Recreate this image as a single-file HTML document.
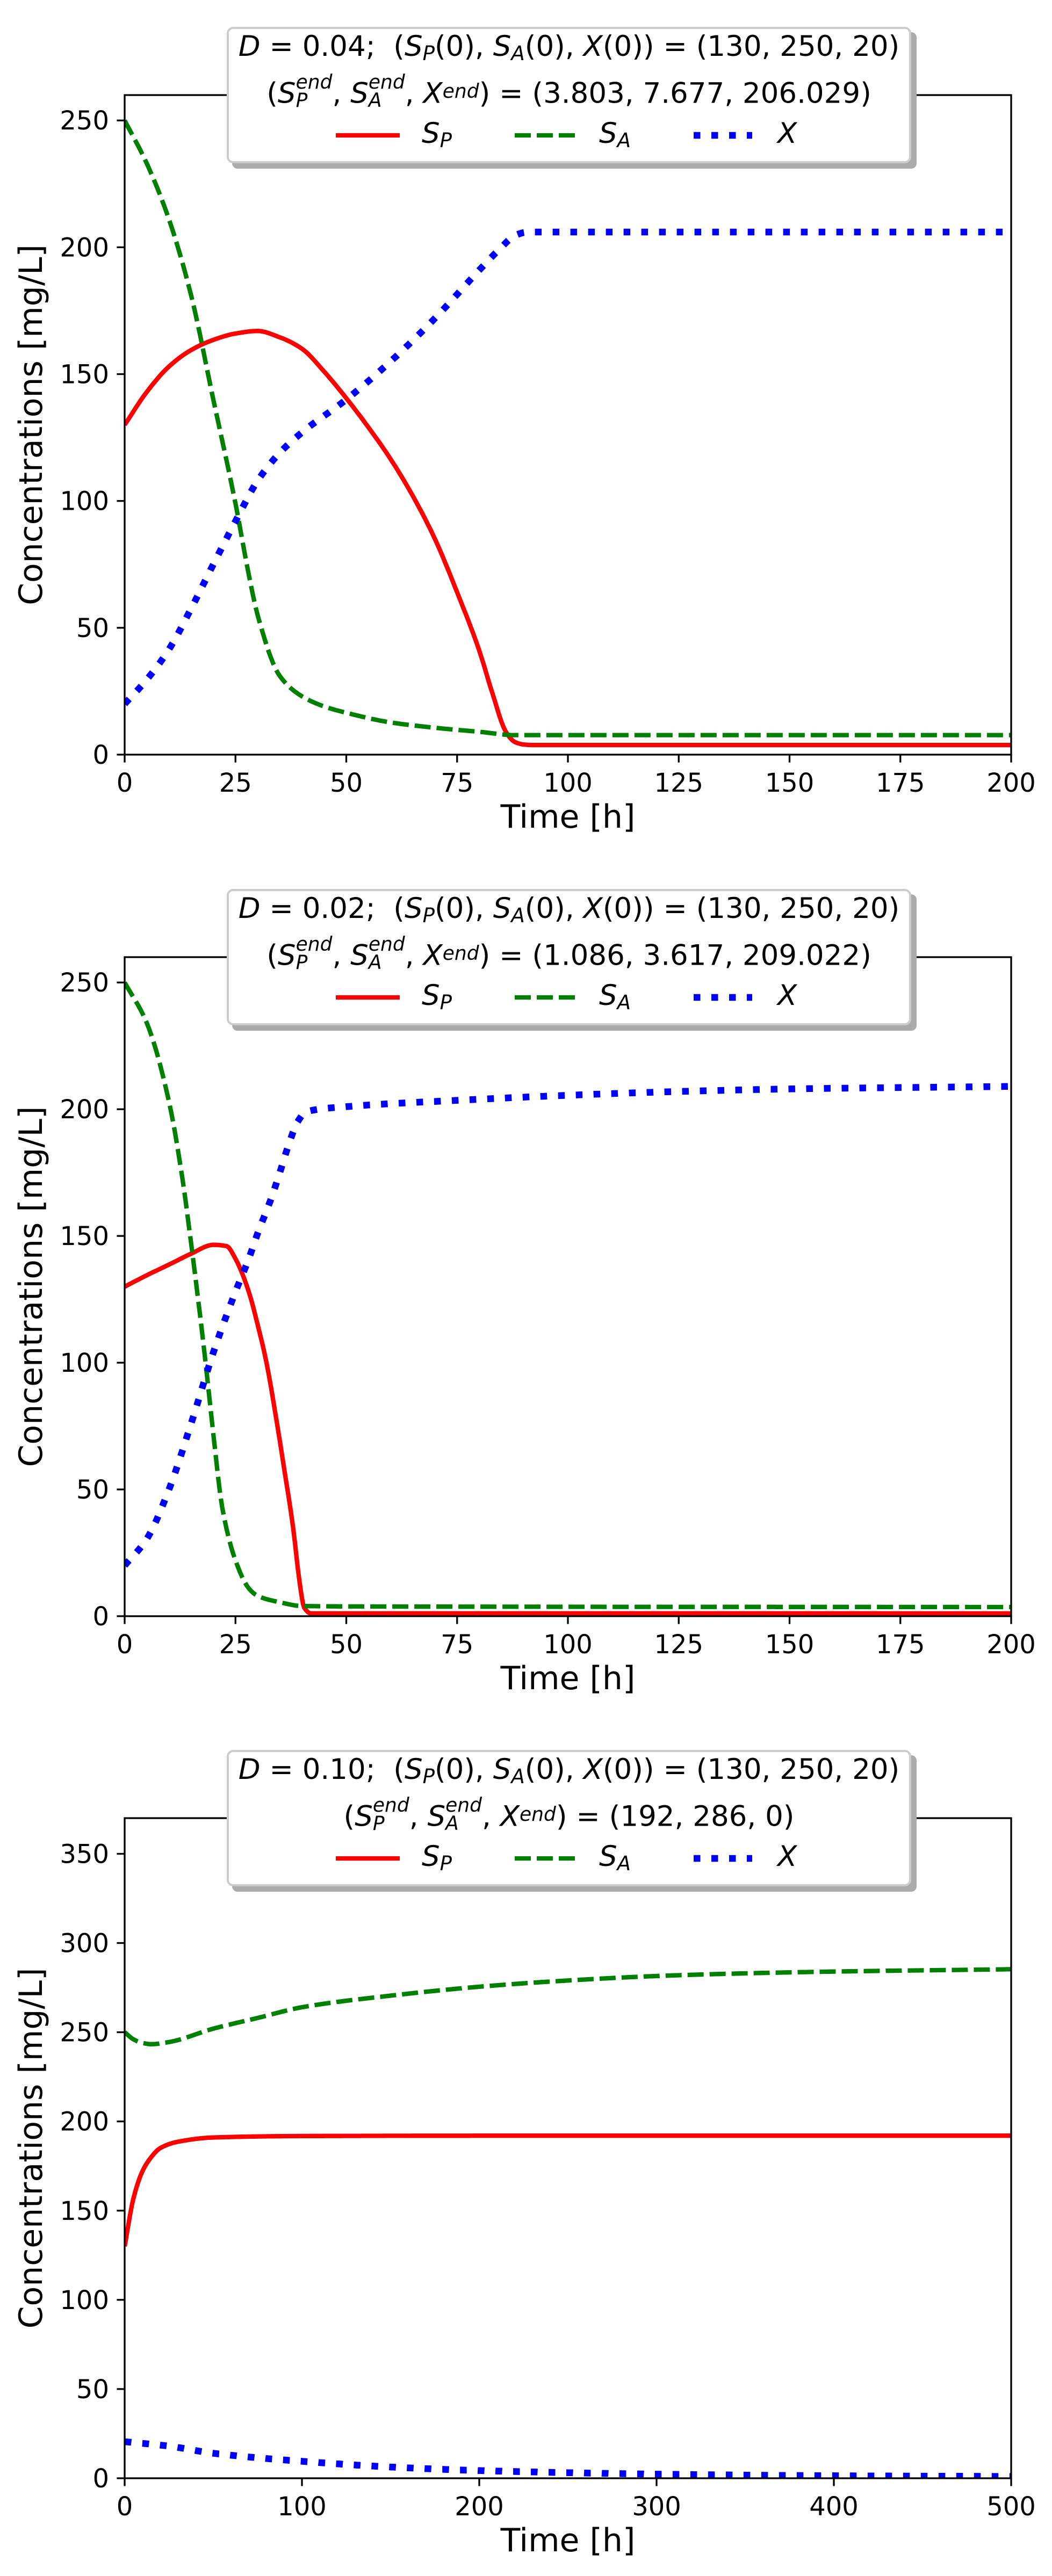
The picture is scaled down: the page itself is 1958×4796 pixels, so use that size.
<!DOCTYPE html>
<html><head><meta charset="utf-8">
<style>
html,body{margin:0;padding:0;background:#fff}
#wrap{position:relative;width:1958px;height:4796px;overflow:hidden;font-family:"DejaVu Sans","Liberation Sans",sans-serif}
svg{position:absolute;left:0;top:0}
.ln{position:absolute;left:422px;width:1274px;text-align:center;white-space:nowrap;line-height:1;font-size:53px}
i{font-style:italic}
.sb{font-size:0.7em;font-style:italic;position:relative;top:0.22em}
.st{display:inline-block;vertical-align:-0.22em;line-height:0.95;font-size:0.68em;font-style:italic;text-align:left}
.ent{position:absolute;font-size:53px;font-style:italic;line-height:1;white-space:nowrap}
</style></head><body>
<div id="wrap">
<svg id="s" width="1958" height="4796" xmlns="http://www.w3.org/2000/svg"></svg>
</div>
<script>
var NS="http://www.w3.org/2000/svg";
var svg=document.getElementById('s');
var wrap=document.getElementById('wrap');
function el(t,a,p){var e=document.createElementNS(NS,t);for(var k in a)e.setAttribute(k,a[k]);(p||svg).appendChild(e);return e;}
function txt(x,y,s,a){var t=el('text',Object.assign({x:x,y:y,'font-family':'DejaVu Sans, Liberation Sans, sans-serif','font-size':48,fill:'#000'},a||{}));t.textContent=s;return t;}
// monotone cubic interpolation (Fritsch-Carlson), sampled
function mono(pts){
  var n=pts.length,xs=pts.map(p=>p[0]),ys=pts.map(p=>p[1]),d=[],m=[];
  for(var i=0;i<n-1;i++)d.push((ys[i+1]-ys[i])/(xs[i+1]-xs[i]));
  m[0]=d[0];m[n-1]=d[n-2];
  for(i=1;i<n-1;i++){ if(d[i-1]*d[i]<=0)m[i]=0; else { var w1=2*(xs[i+1]-xs[i])+(xs[i]-xs[i-1]),w2=(xs[i+1]-xs[i])+2*(xs[i]-xs[i-1]); m[i]=(w1+w2)/(w1/d[i-1]+w2/d[i]); } }
  var out=[];
  for(i=0;i<n-1;i++){
    var h=xs[i+1]-xs[i],N=Math.max(4,Math.ceil(h*2));
    for(var k=0;k<N;k++){var t=k/N,t2=t*t,t3=t2*t;
      var y=(2*t3-3*t2+1)*ys[i]+(t3-2*t2+t)*h*m[i]+(-2*t3+3*t2)*ys[i+1]+(t3-t2)*h*m[i+1];
      out.push([xs[i]+t*h,y]);}
  }
  out.push(pts[n-1]);return out;
}
var L=232,R=1882;
function plot(cfg){
  var T=cfg.top,B=cfg.bot,xm=cfg.xmax,ym=cfg.ymax;
  function X(t){return L+(R-L)*t/xm;}
  function Y(v){return B-(B-T)*v/ym;}
  var clip=el('clipPath',{id:'c'+T});el('rect',{x:L,y:T,width:R-L,height:B-T},clip);
  var cg=el('g',{'clip-path':'url(#c'+T+')'});
  var st=[['r','#ff0000','none',8.3],['g','#008000','30 11',8.3],['b','#0000ff','12.5 20.5',12.5]];
  st.forEach(function(s){
    var pts=mono(cfg[s[0]]).map(function(p){return X(p[0]).toFixed(1)+','+Y(p[1]).toFixed(1);});
    var a={d:'M'+pts.join(' L'),fill:'none',stroke:s[1],'stroke-width':s[3],'stroke-linejoin':'round'};
    if(s[2]!=='none')a['stroke-dasharray']=s[2];
    el('path',a,cg);
  });
  el('rect',{x:L,y:T,width:R-L,height:B-T,fill:'none',stroke:'#000','stroke-width':3.3});
  cfg.xt.forEach(function(t){var x=X(t);el('line',{x1:x,y1:B,x2:x,y2:B+14.6,stroke:'#000','stroke-width':3.3});txt(x,B+69,String(t),{'text-anchor':'middle'});});
  cfg.yt.forEach(function(v){var y=Y(v);el('line',{x1:L,y1:y,x2:L-14.6,y2:y,stroke:'#000','stroke-width':3.3});txt(L-29,y+17,String(v),{'text-anchor':'end'});});
  txt((L+R)/2,B+136,'Time [h]',{'text-anchor':'middle','font-size':60});
  var my=(T+B)/2;
  txt(0,0,'Concentrations [mg/L]',{'text-anchor':'middle','font-size':60,transform:'translate(78,'+my+') rotate(-90)'});
  // legend box
  var bt=T-127;
  el('rect',{x:432,y:bt+10,width:1274,height:254,rx:10,fill:'#aaa'});
  el('rect',{x:424,y:bt+2,width:1270,height:250,rx:10,fill:'#fff',stroke:'#ccc','stroke-width':4});
  var d1=document.createElement('div');d1.className='ln';d1.style.top=(bt+10)+'px';
  d1.innerHTML='<i>D</i> = '+cfg.D+';&nbsp; (<i>S</i><span class="sb">P</span>(0), <i>S</i><span class="sb">A</span>(0), <i>X</i>(0)) = (130, 250, 20)';
  wrap.appendChild(d1);
  var d2=document.createElement('div');d2.className='ln';d2.style.top=(bt+87)+'px';
  d2.innerHTML='(<i>S</i><span class="st">end<br>P</span>, <i>S</i><span class="st">end<br>A</span>, <i>X</i><span class="st" style="vertical-align:0.25em">end</span>) = '+cfg.end;
  wrap.appendChild(d2);
  var ly=T+75;
  el('line',{x1:625,y1:ly,x2:744,y2:ly,stroke:'#ff0000','stroke-width':8.3});
  el('line',{x1:958,y1:ly,x2:1074,y2:ly,stroke:'#008000','stroke-width':8.3,'stroke-dasharray':'30 11'});
  el('line',{x1:1291,y1:ly,x2:1400,y2:ly,stroke:'#0000ff','stroke-width':12.5,'stroke-dasharray':'12.5 20.5'});
  [[785,'S','P'],[1115,'S','A'],[1447,'X','']].forEach(function(e){
    var s=document.createElement('div');s.className='ent';s.style.left=e[0]+'px';s.style.top=(ly-30)+'px';
    s.innerHTML=e[1]+(e[2]?'<span class="sb">'+e[2]+'</span>':'');wrap.appendChild(s);
  });
}
plot({top:177,bot:1405,xmax:200,ymax:260,D:'0.04',end:'(3.803, 7.677, 206.029)',
 xt:[0,25,50,75,100,125,150,175,200],yt:[0,50,100,150,200,250],
 r:[[0,130],[5,143],[10,153],[15,159.5],[20,163.5],[25,166],[30,167],[35,164.5],[40,160],[45,151],[50,140.5],[55,129],[60,116.5],[65,102],[70,85],[75,64],[80,41],[83,24],[86,9],[88,5],[90,4],[92,3.8],[200,3.8]],
 g:[[0,250],[5,233],[10,211],[15,181],[20,140],[25,99],[28,71],[30,55],[35,31],[40,23],[45,19],[50,16.5],[60,12.7],[70,10.6],[80,9],[88,7.7],[200,7.7]],
 b:[[0,20],[5,29.6],[10,41.5],[15,57.6],[20,75],[25,92],[30,108],[35,119],[40,127],[50,140],[60,155],[70,172],[80,191],[85,200],[88,204.6],[91,206],[200,206]]});
plot({top:1782,bot:3009,xmax:200,ymax:260,D:'0.02',end:'(1.086, 3.617, 209.022)',
 xt:[0,25,50,75,100,125,150,175,200],yt:[0,50,100,150,200,250],
 r:[[0,130],[5,134.5],[10,138.7],[15,143],[20,146.5],[23,146],[25,141],[28,128],[30,115],[32,100],[34,80],[36,58],[38,35],[39.5,13],[40.5,3.4],[42,1.1],[200,1.09]],
 g:[[0,250],[5,234],[10,203],[13,173],[15,147],[18,104],[20,72],[22,43],[25,22],[28,11],[30,8],[35,5.5],[40,4],[60,3.8],[200,3.6]],
 b:[[0,20],[5,30.5],[10,50],[15,76],[20,104],[25,128],[28,141],[30,151],[33,164.5],[35,175],[37,186],[39,195],[41,199],[50,201],[75,203.5],[100,205.5],[125,207],[150,208],[200,209]]});
plot({top:3385,bot:4614,xmax:500,ymax:370,D:'0.10',end:'(192, 286, 0)',
 xt:[0,100,200,300,400,500],yt:[0,50,100,150,200,250,300,350],
 r:[[0,130],[5,157],[10,172],[15,180],[20,185],[30,188.6],[50,191],[100,191.8],[200,192],[500,192]],
 g:[[0,250],[5,246],[10,244],[15,243.3],[25,244.5],[50,252],[75,258],[100,264],[150,270.5],[200,275.5],[250,279],[300,281.5],[350,283],[400,284],[500,285.3]],
 b:[[0,20.5],[25,18],[50,14],[100,9.5],[150,6.3],[200,4.3],[300,2.3],[400,1.4],[500,1]]});
</script>
</body></html>
